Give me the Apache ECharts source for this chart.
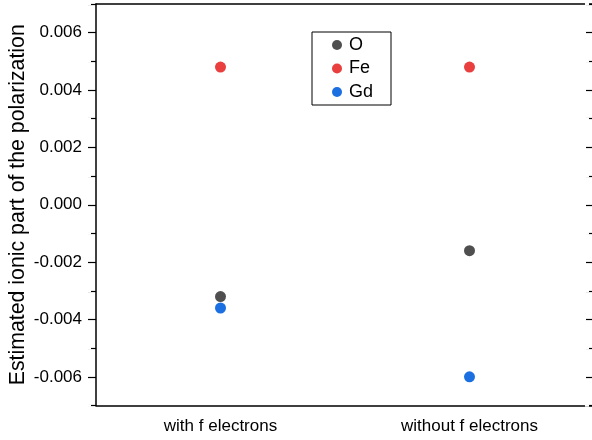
<!DOCTYPE html>
<html><head><meta charset="utf-8">
<script src="https://cdn.jsdelivr.net/npm/echarts@6/dist/echarts.min.js"></script>
<style>html,body{margin:0;padding:0;background:#fff}#c{width:592px;height:440px}</style>
</head><body><div id="c"></div>
<script>
const categories = ["with f electrons", "without f electrons"];
const seriesNames = ["O", "Fe", "Gd"];
const O = [-0.0032, -0.0016];
const Fe = [0.0048, 0.0048];
const Gd = [-0.0036, -0.0060];
const colors = ["#4f4f4f", "#ea3f3f", "#1b6fe0"];
const yTickLabels = ["-0.006","-0.004","-0.002","0.000","0.002","0.004","0.006"];
const values = [O, Fe, Gd];
const font = "Liberation Sans, Arial, Helvetica, sans-serif";
const chart = echarts.init(document.getElementById('c'), null, {renderer:'canvas'});
chart.setOption({
  animation:false,
  backgroundColor:'#fff',
  grid:{left:96, right:-2, top:4, bottom:34.5, containLabel:false, outerBoundsMode:'none'},
  legend:{
    orient:'vertical', left:312, top:32,
    data:seriesNames, icon:'circle', itemWidth:10, itemHeight:10, itemGap:5.5,
    borderColor:'#000', borderWidth:1, borderRadius:0,
    padding:[4,18,4,20],
    textStyle:{fontFamily:font, fontSize:18, color:'#000', padding:[0,0,0,2]}
  },
  xAxis:[{
    type:'category', data:categories, position:'bottom', boundaryGap:true,
    axisLine:{onZero:false, lineStyle:{color:'#000', width:1.5}},
    axisTick:{alignWithLabel:true, inside:false, length:7, lineStyle:{color:'#000', width:1.2}},
    axisLabel:{fontFamily:font, fontSize:17, color:'#000', margin:12},
    splitLine:{show:false}
  },{
    type:'category', data:categories, position:'top', boundaryGap:true,
    axisLine:{onZero:false, lineStyle:{color:'#000', width:1.5}},
    axisTick:{alignWithLabel:true, inside:true, length:7, lineStyle:{color:'#000', width:1.2}},
    axisLabel:{show:false}, splitLine:{show:false}
  }],
  yAxis:[{
    type:'value', min:-0.007, max:0.007, interval:0.001, position:'left',
    name:'Estimated ionic part of the polarization', nameLocation:'middle', nameGap:67,
    nameMoveOverlap:false,
    nameTextStyle:{fontFamily:font, fontSize:21.3, color:'#000'},
    axisLine:{show:true, onZero:false, lineStyle:{color:'#000', width:1.5}},
    axisTick:{show:true, inside:false, length:8, lineStyle:{color:'#000', width:1.2}},
    axisLabel:{fontFamily:font, fontSize:17, color:'#000', margin:14,
      formatter:function(v){
        let s = v.toFixed(3);
        if (s==='-0.000') s = '0.000';
        return yTickLabels.indexOf(s)>=0 ? s : '';
      }},
    splitLine:{show:false}
  },{
    type:'value', min:-0.007, max:0.007, interval:0.001, position:'right',
    axisLine:{show:false, onZero:false},
    axisTick:{show:true, inside:true, length:8, lineStyle:{color:'#000', width:1.2}},
    axisLabel:{show:false}, splitLine:{show:false}
  }],
  series: seriesNames.map((n,i)=>({
    name:n, type:'scatter', xAxisIndex:0, yAxisIndex:0,
    data:values[i], symbol:'circle', symbolSize:11,
    itemStyle:{color:colors[i], opacity:1}
  }))
});
// shorten odd (minor) ticks by whiting out their outer/inner part
const g = [];
const gridRect = chart.getModel().getComponent('grid').coordinateSystem.getRect();
const xL = gridRect.x, xR = gridRect.x + gridRect.width;
for (let k=-7;k<=7;k++){
  if (k%2===0) continue;
  const y = chart.convertToPixel({yAxisIndex:0}, k/1000);
  g.push({type:'line', shape:{x1:xL-9,y1:y,x2:xL-5,y2:y}, style:{stroke:'#fff', lineWidth:2.5}, z:100});
  g.push({type:'line', shape:{x1:xR-9,y1:y,x2:xR-5,y2:y}, style:{stroke:'#fff', lineWidth:2.5}, z:100});
}
chart.setOption({graphic:g});
</script></body></html>
